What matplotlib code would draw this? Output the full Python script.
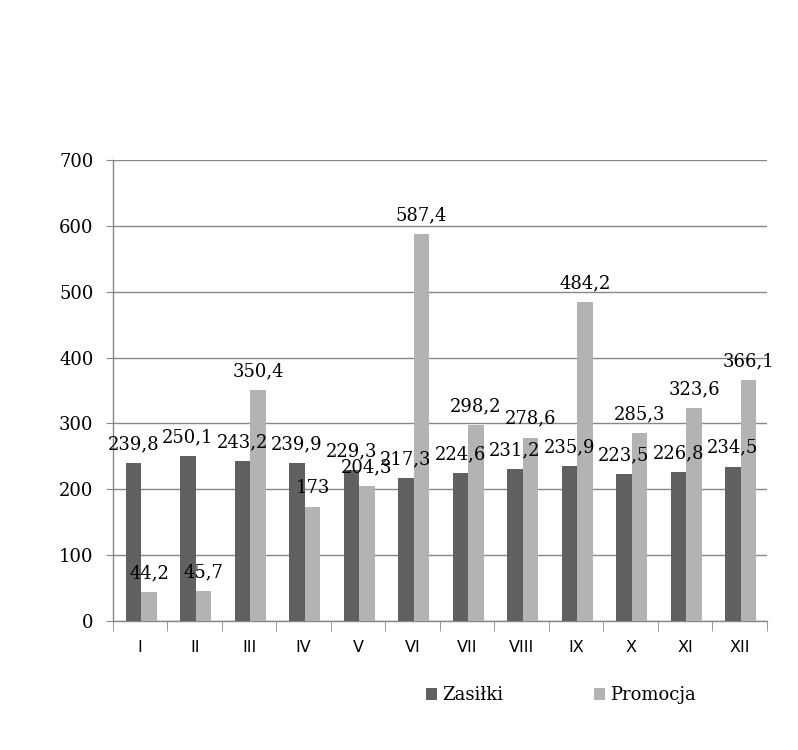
import matplotlib
matplotlib.use("Agg")
import matplotlib.pyplot as plt
import numpy as np
from matplotlib.patches import Patch

categories = ["I", "II", "III", "IV", "V", "VI", "VII", "VIII", "IX", "X", "XI", "XII"]
zasilki = [239.8, 250.1, 243.2, 239.9, 229.3, 217.3, 224.6, 231.2, 235.9, 223.5, 226.8, 234.5]
promocja = [44.2, 45.7, 350.4, 173, 204.3, 587.4, 298.2, 278.6, 484.2, 285.3, 323.6, 366.1]
series_names = ["Zasiłki", "Promocja"]

dark = "#606060"
light = "#b3b3b3"
grid_c = "#878787"
serif = "DejaVu Serif"

fig = plt.figure(figsize=(7.98, 7.5), dpi=100)
ax = fig.add_axes([0.1416, 0.172, 0.8194, 0.6147])

x = np.arange(len(categories))
w = 0.285
b1 = ax.bar(x - w / 2 + 0.02, zasilki, width=w, color=dark, zorder=3)
b2 = ax.bar(x + w / 2 + 0.02, promocja, width=w, color=light, zorder=3)

def fmt(v):
    s = ("%.1f" % v).rstrip("0").rstrip(".")
    return s.replace(".", ",")

for bars, vals in ((b1, zasilki), (b2, promocja)):
    for r, v in zip(bars, vals):
        ax.annotate(fmt(v), (r.get_x() + r.get_width() / 2, v), xytext=(0, 7),
                    textcoords="offset points", ha="center", va="bottom",
                    fontsize=13, family=serif, color="black", zorder=5)

ax.set_xlim(-0.5, len(categories) - 0.5)
ax.set_ylim(0, 700)
ax.set_yticks(np.arange(0, 701, 100))
ax.set_yticklabels([str(v) for v in range(0, 701, 100)], family=serif, fontsize=13)
ax.yaxis.grid(True, color=grid_c, linewidth=1, zorder=0)
ax.tick_params(axis="y", length=5, color=grid_c, pad=9)

ax.set_xticks(x)
ax.set_xticklabels(categories, family="DejaVu Sans", fontsize=11.5)
ax.tick_params(axis="x", length=0, pad=14)
ax.set_xticks(np.arange(-0.5, len(categories), 1), minor=True)
ax.tick_params(axis="x", which="minor", length=7, color=grid_c, direction="out")

for s in ("top", "right"):
    ax.spines[s].set_visible(False)
for s in ("left", "bottom"):
    ax.spines[s].set_color(grid_c)
    ax.spines[s].set_linewidth(1)

handles = [Patch(facecolor=dark, edgecolor="none"), Patch(facecolor=light, edgecolor="none")]
fig.legend(handles, series_names, loc="center", bbox_to_anchor=(0.703, 0.073), ncol=2,
           frameon=False, prop={"family": serif, "size": 13}, handlelength=0.6,
           handleheight=0.6, handletextpad=0.3, columnspacing=5.0)

fig.savefig("out.png", dpi=100)
